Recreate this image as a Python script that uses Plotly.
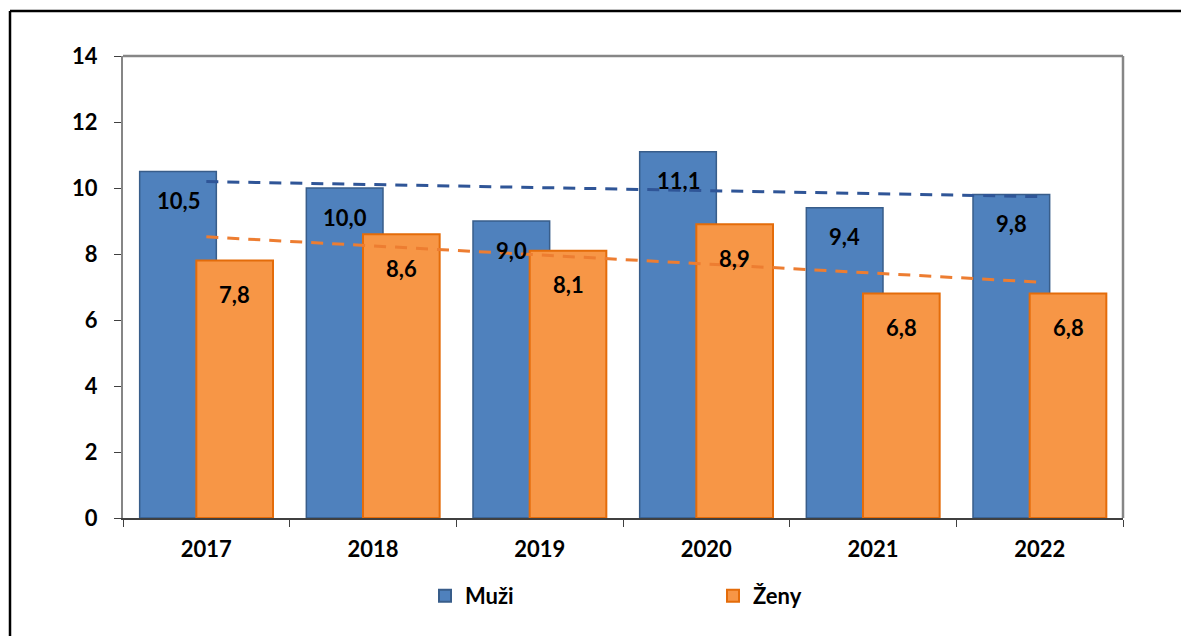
import plotly.graph_objects as go
import numpy as np

years = ["2017", "2018", "2019", "2020", "2021", "2022"]
muzi = [10.5, 10.0, 9.0, 11.1, 9.4, 9.8]
zeny = [7.8, 8.6, 8.1, 8.9, 6.8, 6.8]

def fmt(v):
    return f"{v:.1f}".replace(".", ",")

def trend(vals):
    x = np.arange(len(vals))
    a, b = np.polyfit(x, vals, 1)
    return list(a * x + b)

BLUE, BLUE_E = "#4F81BD", "#385D8A"
ORANGE, ORANGE_E = "#F79646", "#E46C0A"
FONT = "Lato"
FS = 22

fig = go.Figure()
W = 0.46
fig.add_trace(go.Bar(x=years, y=muzi, name="Muži", width=W, offset=-0.4,
                     marker=dict(color=BLUE, line=dict(color=BLUE_E, width=1.5))))
fig.add_trace(go.Bar(x=years, y=zeny, name="Ženy", width=W, offset=-0.06,
                     marker=dict(color=ORANGE, line=dict(color=ORANGE_E, width=2))))
fig.add_trace(go.Scatter(x=years, y=trend(muzi), mode="lines", showlegend=False,
                         line=dict(color="#2F5597", width=3, dash="12px,9px")))
fig.add_trace(go.Scatter(x=years, y=trend(zeny), mode="lines", showlegend=False,
                         line=dict(color="#ED7D31", width=3, dash="12px,9px")))

anns = []
for i, (m, z) in enumerate(zip(muzi, zeny)):
    anns.append(dict(x=i - 0.4 + W / 2, y=m, xref="x", yref="y", text=fmt(m),
                     showarrow=False, yshift=-29,
                     font=dict(family=FONT, size=FS, color="black", weight="bold")))
    anns.append(dict(x=i - 0.06 + W / 2, y=z, xref="x", yref="y", text=fmt(z),
                     showarrow=False, yshift=-34,
                     font=dict(family=FONT, size=FS, color="black", weight="bold")))

fig.update_layout(
    width=1181, height=636,
    margin=dict(l=123, r=58, t=56, b=118),
    paper_bgcolor="white", plot_bgcolor="white",
    barmode="overlay",
    annotations=anns,
    font=dict(family=FONT, size=FS, color="black", weight="bold"),
    legend=dict(orientation="h", x=0.302, xanchor="left", y=-0.123, yanchor="top",
                entrywidth=243, entrywidthmode="pixels",
                font=dict(family=FONT, size=FS, color="black", weight="bold"),
                itemsizing="constant"),
    xaxis=dict(type="category", range=[-0.5, 5.5], showline=True, linecolor="#404040",
               linewidth=1.5, ticks="outside", tickson="boundaries", ticklen=7,
               tickcolor="#404040", showgrid=False, ticklabelstandoff=11,
               tickfont=dict(family=FONT, size=FS, color="black", weight="bold")),
    yaxis=dict(range=[0, 14], dtick=2, showline=True, linecolor="#868686", linewidth=2,
               ticks="outside", ticklen=7, tickcolor="#404040", showgrid=False,
               zeroline=False, ticklabelstandoff=12,
               tickfont=dict(family=FONT, size=FS, color="black", weight="bold")),
    shapes=[
        dict(type="line", xref="paper", yref="paper", x0=0, x1=1, y0=1, y1=1,
             line=dict(color="#868686", width=2.5)),
        dict(type="line", xref="paper", yref="paper", x0=1, x1=1, y0=0, y1=1,
             line=dict(color="#868686", width=2.5)),
        dict(type="line", xref="paper", yref="paper", x0=-0.113, x1=1.058,
             y0=1.0974, y1=1.0974, line=dict(color="black", width=2.5)),
        dict(type="line", xref="paper", yref="paper", x0=-0.113, x1=-0.113,
             y0=-0.2554, y1=1.0974, line=dict(color="black", width=2.5)),
    ],
)

fig.write_html("out.html", config={"displayModeBar": False},
               post_script="document.body.style.margin='0';document.body.style.overflow='hidden';")
